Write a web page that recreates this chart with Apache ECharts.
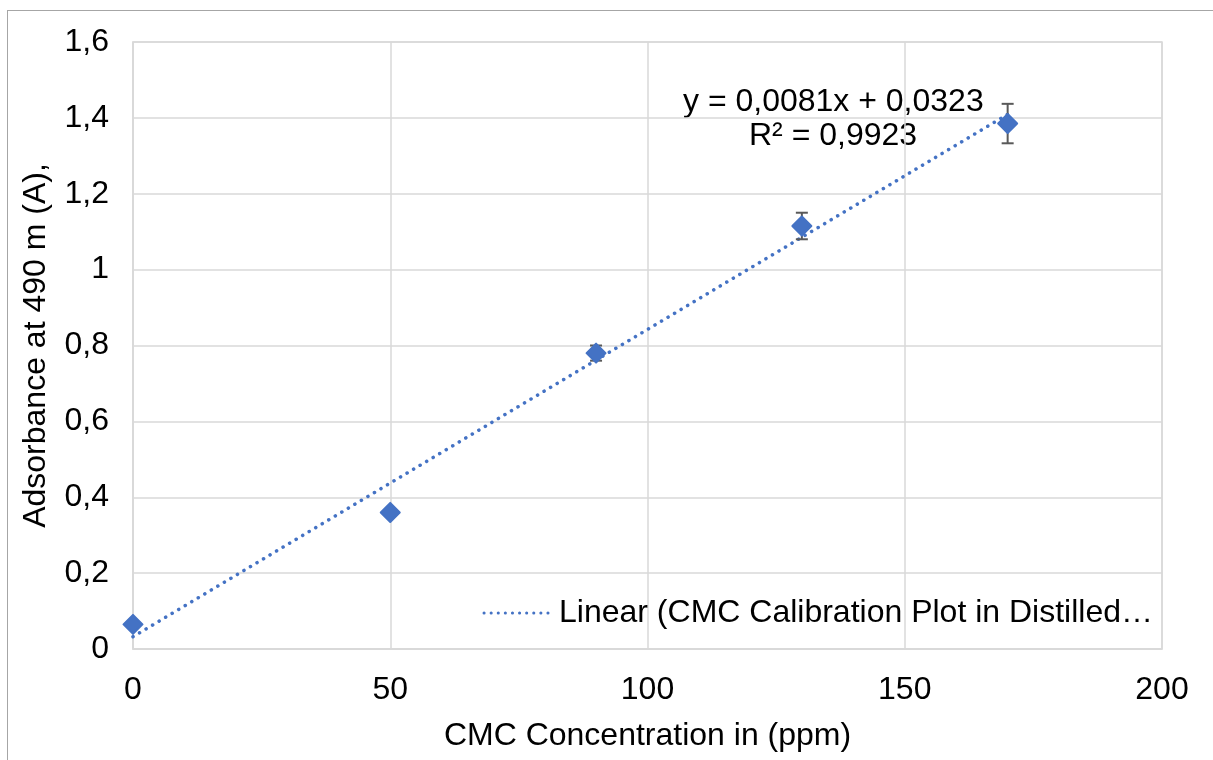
<!DOCTYPE html>
<html>
<head>
<meta charset="utf-8">
<script src="https://cdn.jsdelivr.net/npm/echarts@6/dist/echarts.min.js"></script>
<style>
html,body{margin:0;padding:0;background:#fff;}
#frame{position:absolute;left:7px;top:10px;width:1215px;height:760px;border:1.5px solid #a6a6a6;box-sizing:border-box;}
#chart{position:absolute;left:0;top:0;width:1213px;height:760px;}
</style>
</head>
<body>
<div id="frame"></div>
<div id="chart"></div>
<script>
const xValues = [0, 50, 90, 130, 170];
const yValues = [0.065, 0.36, 0.78, 1.115, 1.385];
const yErrors = [0.008, 0.008, 0.02, 0.035, 0.052];
const slope = 0.0081;
const intercept = 0.0323;
const trendX = [0, 170];
const equationText = 'y = 0,0081x + 0,0323';
const r2Text = 'R² = 0,9923';
const trendName = 'Linear (CMC Calibration Plot in Distilled…';
const xTitle = 'CMC Concentration in (ppm)';
const yTitle = 'Adsorbance at 490 m (A),';

const color = '#4472C4';
const font = 'Arial, "Liberation Sans", sans-serif';
const fs = 32;

const points = xValues.map((x, i) => [x, yValues[i]]);
const errData = xValues.map((x, i) => [x, yValues[i] - yErrors[i], yValues[i] + yErrors[i]]);
const trendData = trendX.map(x => [x, slope * x + intercept]);

const chart = echarts.init(document.getElementById('chart'));
chart.setOption({
  animation: false,
  backgroundColor: 'transparent',
  grid: {left: 133, right: 51, top: 42, bottom: 111, show: true, borderColor: '#d9d9d9', borderWidth: 1.5},
  legend: {
    data: [{name: trendName}],
    right: 55, top: 592,
    itemWidth: 70, itemHeight: 14, itemGap: 8,
    itemStyle: {opacity: 0},
    lineStyle: {color: color, width: 3, type: [0.1, 7], cap: 'round'},
    textStyle: {fontFamily: font, fontSize: fs, color: '#000'}
  },
  xAxis: {
    type: 'value', min: 0, max: 200, interval: 50,
    name: xTitle, nameLocation: 'middle', nameGap: 71,
    nameTextStyle: {fontFamily: font, fontSize: fs, color: '#000'},
    axisLine: {show: true, onZero: false, lineStyle: {color: '#d9d9d9', width: 1.5}},
    axisTick: {show: false},
    axisLabel: {fontFamily: font, fontSize: fs, color: '#000', margin: 25},
    splitLine: {show: true, lineStyle: {color: '#d9d9d9', width: 1.5}}
  },
  yAxis: {
    type: 'value', min: 0, max: 1.6, interval: 0.2,
    name: yTitle, nameLocation: 'middle', nameGap: 81,
    nameTextStyle: {fontFamily: font, fontSize: fs, color: '#000'},
    axisLine: {show: true, lineStyle: {color: '#d9d9d9', width: 1.5}},
    axisTick: {show: false},
    axisLabel: {fontFamily: font, fontSize: fs, color: '#000', margin: 24,
      formatter: v => String(Math.round(v * 10) / 10).replace('.', ',')},
    splitLine: {show: true, lineStyle: {color: '#d9d9d9', width: 1.5}}
  },
  graphic: [
    {type: 'text', left: 683, top: 86, style: {text: equationText, fontFamily: font, fontSize: fs, fill: '#000'}},
    {type: 'text', left: 749, top: 120, style: {text: r2Text, fontFamily: font, fontSize: fs, fill: '#000'}}
  ],
  series: [
    {
      name: trendName, type: 'line', data: trendData, showSymbol: false, symbol: 'none',
      lineStyle: {color: color, width: 3.5, type: [0.1, 7.5], cap: 'round'},
      itemStyle: {color: color}, z: 2
    },
    {
      name: 'err', type: 'custom', data: errData, z: 3,
      renderItem: function (params, api) {
        const x = api.value(0);
        const lo = api.coord([x, api.value(1)]);
        const hi = api.coord([x, api.value(2)]);
        const w = 6;
        const st = {stroke: '#595959', lineWidth: 2};
        return {type: 'group', children: [
          {type: 'line', shape: {x1: lo[0], y1: lo[1], x2: hi[0], y2: hi[1]}, style: st},
          {type: 'line', shape: {x1: lo[0] - w, y1: lo[1], x2: lo[0] + w, y2: lo[1]}, style: st},
          {type: 'line', shape: {x1: hi[0] - w, y1: hi[1], x2: hi[0] + w, y2: hi[1]}, style: st}
        ]};
      }
    },
    {
      name: 'data', type: 'scatter', data: points, symbol: 'diamond', symbolSize: 19,
      itemStyle: {color: color, opacity: 1, borderColor: color, borderWidth: 2, borderJoin: 'round'}, z: 4
    }
  ]
});
</script>
</body>
</html>
